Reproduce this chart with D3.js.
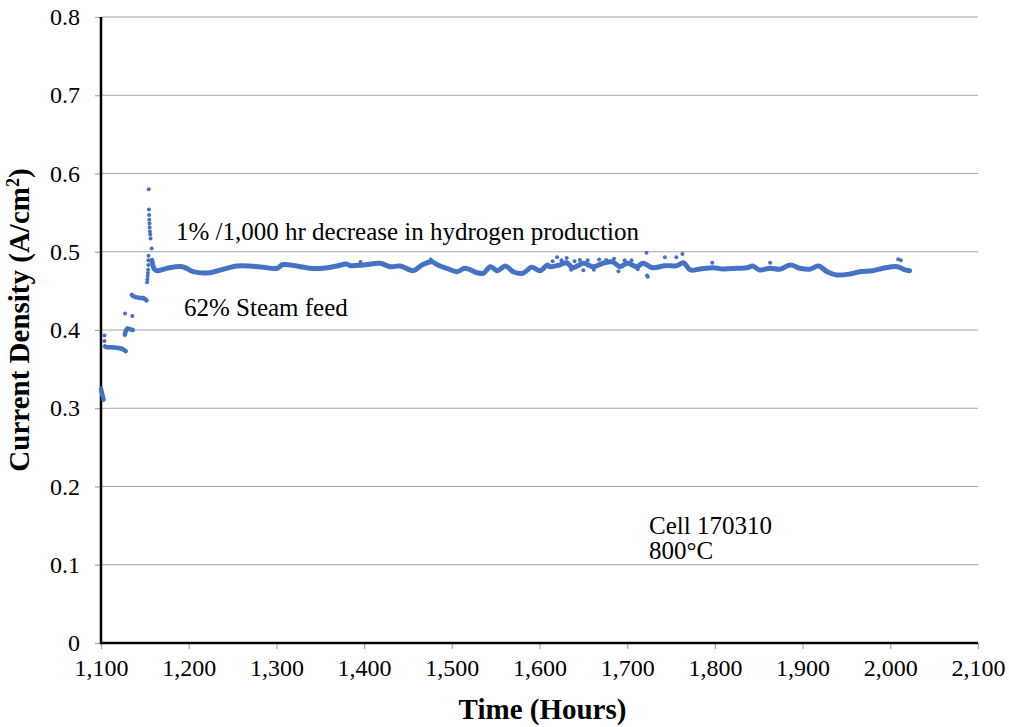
<!DOCTYPE html>
<html><head><meta charset="utf-8">
<script src="https://cdn.jsdelivr.net/npm/d3@7"></script>
<style>
body{margin:0;background:#fff}
svg{display:block}
text{font-family:"Liberation Serif","Times New Roman",serif;fill:#000}
</style>
</head><body>
<svg id="chart" width="1009" height="727"></svg>
<script>
// ---- axis ticks ----
const xTicks = [1100,1200,1300,1400,1500,1600,1700,1800,1900,2000,2100];
const xTickLabels = ["1,100","1,200","1,300","1,400","1,500","1,600","1,700","1,800","1,900","2,000","2,100"];
const yTicks = [0,0.1,0.2,0.3,0.4,0.5,0.6,0.7,0.8];
const yTickLabels = ["0","0.1","0.2","0.3","0.4","0.5","0.6","0.7","0.8"];

// ---- early step clusters (drawn as short thick runs) ----
const clusterId      = ["A","A","A","A","A", "B","B","B","B","B","B","B","B", "C","C","C","C","C", "D","D","D","D","D","D"];
const clusterTime    = [1100.0,1100.8,1101.5,1102.3,1103.0, 1104.6,1106,1110,1115,1120,1124,1127,1128.2, 1127.2,1128.3,1130,1133,1136.3, 1135.2,1137,1140,1144,1148,1152];
const clusterDensity = [0.325,0.321,0.317,0.314,0.311, 0.379,0.378,0.378,0.3775,0.377,0.376,0.374,0.373, 0.394,0.399,0.402,0.401,0.400, 0.445,0.443,0.442,0.441,0.441,0.438];

// ---- isolated points, ramp and spike ----
const dotTime    = [1104.0,1104.0,1127.4,1135.7, 1152.5,1152.9,1153.2,1153.5,1153.8,1154.0,1154.1,1154.2, 1154.4,1154.7,1154.9,1155.1,1155.3,1155.5,1155.8,1156.1,1156.5,1157.8];
const dotDensity = [0.393,0.386,0.421,0.418, 0.461,0.465,0.469,0.473,0.477,0.483,0.489,0.495, 0.580,0.554,0.547,0.541,0.536,0.531,0.526,0.522,0.517,0.504];

// ---- main plateau ----
const bandTime = [1157.9,1159.3,1161,1164,1175,1193,1205,1224,1239,1255,1270,1285,1301,1307,1323,1338,1353,1369,1380,1384,1399,1418,1430,1441,1456,1466,1477,1484,1494,1506,1515,1529,1536,1544,1552,1561,1570,1581,1591,1601,1609,1612,1623,1631,1638,1650,1661,1672,1683,1692,1700,1711,1718,1729,1743,1757,1764,1772,1783,1798,1809,1825,1837,1843,1851,1863,1874,1886,1897,1908,1918,1928,1939,1954,1965,1980,1992,2008,2015,2022];
const bandDensity = [0.489,0.482,0.4775,0.4758,0.4788,0.4809,0.4745,0.4732,0.4775,0.4818,0.4818,0.4801,0.4789,0.4834,0.4818,0.4789,0.4789,0.4818,0.4843,0.4822,0.4831,0.4852,0.4809,0.4818,0.4758,0.4831,0.4873,0.4831,0.4789,0.4745,0.4789,0.4732,0.4725,0.4809,0.4758,0.4818,0.4745,0.4725,0.4801,0.4758,0.4831,0.4809,0.4831,0.486,0.4796,0.4852,0.4809,0.4852,0.4870,0.4809,0.4852,0.4809,0.4852,0.4796,0.4822,0.4822,0.486,0.4767,0.4780,0.4796,0.4780,0.4789,0.4796,0.4818,0.4767,0.4789,0.4776,0.4831,0.4789,0.4776,0.4818,0.4745,0.4703,0.4716,0.4745,0.4758,0.4789,0.4809,0.4776,0.4758];

// ---- scattered readings off the plateau ----
const outlierTime    = [1396,1476,1615,1620,1625,1631,1636,1640,1646,1650,1655,1662,1668,1676,1685,1690,1697,1705,1712,1722,1722.6,1723.4,1743,1756,1763,1797,1863,2009,2012];
const outlierDensity = [0.4870,0.4900,0.4880,0.4930,0.4890,0.4920,0.4770,0.4880,0.4895,0.4765,0.4890,0.4770,0.4900,0.4895,0.4910,0.4750,0.4890,0.4890,0.4775,0.4988,0.4695,0.4680,0.4930,0.4930,0.4971,0.4860,0.4860,0.4903,0.4890];

const svg = d3.select("#chart");
const W = 1009, H = 727;
const m = {left:101, right:31, top:17, bottom:84};
const x = d3.scaleLinear().domain([1100,2100]).range([m.left, W - m.right]);
const y = d3.scaleLinear().domain([0,0.8]).range([H - m.bottom, m.top]);
const blue = "#4472C4";
const serif = '"Liberation Serif","Times New Roman",serif';

// gridlines
svg.append("g").selectAll("line").data(yTicks.filter(d => d > 0)).join("line")
  .attr("x1", m.left).attr("x2", W - m.right)
  .attr("y1", d => y(d)).attr("y2", d => y(d))
  .attr("stroke", "#a6a6a6").attr("stroke-width", 1.2);

// y axis
const yAxis = d3.axisLeft(y).tickValues(yTicks).tickFormat((d,i) => yTickLabels[i]).tickSize(6).tickPadding(15);
const gy = svg.append("g").attr("transform", `translate(${m.left},0)`).call(yAxis).attr("font-family", null);
gy.select(".domain").remove();
gy.selectAll(".tick line").attr("stroke", "#a6a6a6").attr("stroke-width", 1.2);
gy.selectAll(".tick text").style("font-family", serif).style("font-size", "24px").attr("fill", "#000");

// x axis
const xAxis = d3.axisBottom(x).tickValues(xTicks).tickFormat((d,i) => xTickLabels[i]).tickSize(6).tickPadding(10);
const gx = svg.append("g").attr("transform", `translate(0,${H - m.bottom})`).call(xAxis).attr("font-family", null);
gx.select(".domain").remove();
gx.selectAll(".tick line").attr("stroke", "#a6a6a6").attr("stroke-width", 1.2);
gx.selectAll(".tick text").style("font-family", serif).style("font-size", "24px").attr("fill", "#000");

// axis lines
svg.append("line").attr("x1", m.left).attr("x2", W - m.right).attr("y1", y(0)).attr("y2", y(0))
  .attr("stroke", "#000").attr("stroke-width", 2.5);
svg.append("line").attr("x1", m.left).attr("x2", m.left).attr("y1", y(0.8)).attr("y2", y(0) + 1.2)
  .attr("stroke", "#000").attr("stroke-width", 2.5);

// plateau band
const band = bandTime.map((t,i) => [t, bandDensity[i]]);
const line = d3.line().x(d => x(d[0])).y(d => y(d[1])).curve(d3.curveCatmullRom.alpha(0.5));
svg.append("path").datum(band).attr("d", line)
  .attr("fill", "none").attr("stroke", blue).attr("stroke-width", 5)
  .attr("stroke-linecap", "round").attr("stroke-linejoin", "round");

// early clusters
const clusters = d3.groups(clusterTime.map((t,i) => ({t, v: clusterDensity[i], g: clusterId[i]})), d => d.g);
const lineC = d3.line().x(d => x(d.t)).y(d => y(d.v));
svg.append("g").selectAll("path").data(clusters).join("path")
  .attr("d", d => lineC(d[1]))
  .attr("fill", "none").attr("stroke", blue).attr("stroke-width", 4.5)
  .attr("stroke-linecap", "round").attr("stroke-linejoin", "round");

// points
const pts = dotTime.map((t,i) => [t, dotDensity[i]]).concat(outlierTime.map((t,i) => [t, outlierDensity[i]]));
svg.append("g").selectAll("circle").data(pts).join("circle")
  .attr("cx", d => x(d[0])).attr("cy", d => y(d[1])).attr("r", 2).attr("fill", blue);

// annotations
const ann = svg.append("g").style("font-size", "25px").style("font-family", serif);
ann.append("text").attr("x", x(1185.5)).attr("y", y(0.515)).text("1% /1,000 hr decrease in hydrogen production");
ann.append("text").attr("x", x(1194.6)).attr("y", y(0.418)).text("62% Steam feed");
ann.append("text").attr("x", x(1724.9)).attr("y", y(0.139)).text("Cell 170310");
ann.append("text").attr("x", x(1724.9)).attr("y", y(0.107)).text("800°C");

// axis titles
svg.append("text").attr("x", (m.left + W - m.right) / 2 + 3).attr("y", 719)
  .attr("text-anchor", "middle").style("font-family", serif).style("font-size", "29px").style("font-weight", "bold")
  .text("Time (Hours)");
const yt = svg.append("text").attr("transform", `translate(29,${320}) rotate(-90)`)
  .attr("text-anchor", "middle").style("font-family", serif).style("font-size", "29px").style("font-weight", "bold");
yt.append("tspan").text("Current Density (A/cm");
yt.append("tspan").attr("dy", -10).style("font-size", "18px").text("2");
yt.append("tspan").attr("dy", 10).text(")");
</script>
</body></html>
